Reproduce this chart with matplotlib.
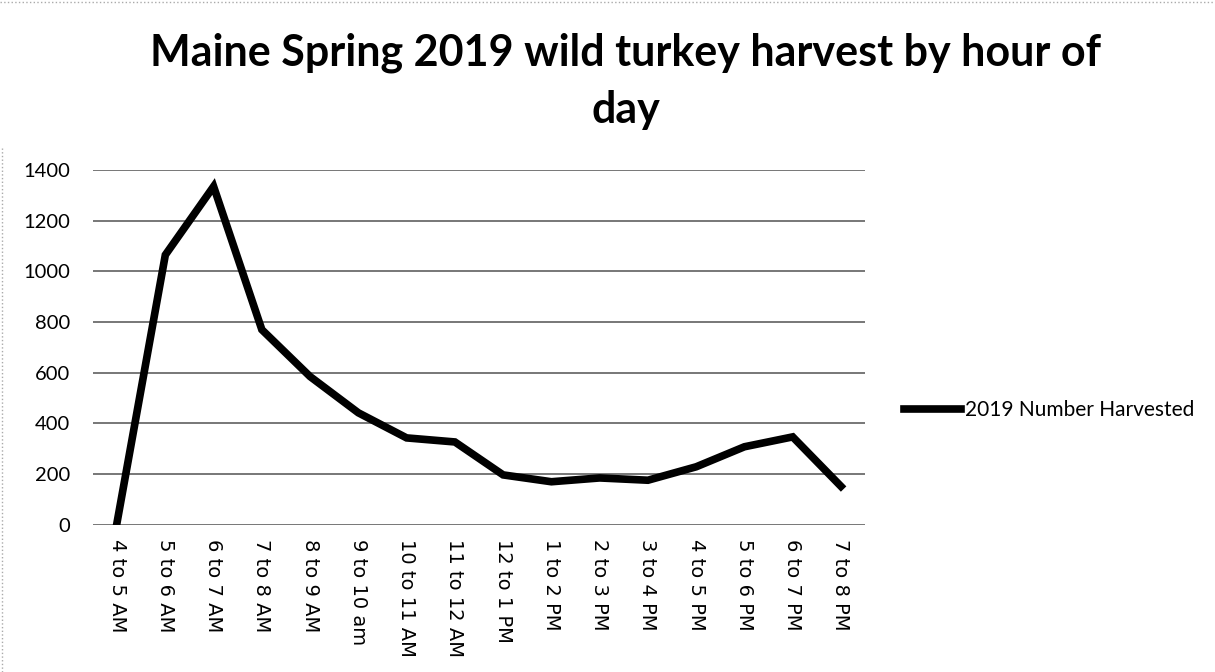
import matplotlib
matplotlib.use("Agg")
import matplotlib.pyplot as plt
from matplotlib.lines import Line2D

hours = ["4 to 5 AM", "5 to 6 AM", "6 to 7 AM", "7 to 8 AM", "8 to 9 AM",
         "9 to 10 am", "10 to 11 AM", "11 to 12 AM", "12 to 1 PM", "1 to 2 PM",
         "2 to 3 PM", "3 to 4 PM", "4 to 5 PM", "5 to 6 PM", "6 to 7 PM",
         "7 to 8 PM"]
harvested = [10, 1065, 1335, 770, 585, 442, 343, 327, 197, 170,
             185, 176, 229, 308, 347, 152]
y_ticks = [0, 200, 400, 600, 800, 1000, 1200, 1400]

title = "Maine Spring 2019 wild turkey harvest by hour of\nday"
series_label = "2019 Number Harvested"

fig = plt.figure(figsize=(12.15, 6.72), dpi=100)
ax = fig.add_axes([0.0765, 0.219, 0.6355, 0.528])

x = list(range(len(hours)))
ax.plot(x, harvested, color="black", linewidth=5.5, solid_joinstyle="miter",
        label=series_label, zorder=3)

ax.set_xlim(-0.5, len(hours) - 0.5)
ax.set_ylim(0, 1400)
ax.set_yticks(y_ticks)
ax.set_yticklabels([str(v) for v in y_ticks], fontsize=14.5, fontfamily="Lato")
ax.set_xticks(x)
ax.set_xticklabels(hours, rotation=-90, fontsize=14, fontfamily="DejaVu Sans",
                   va="top", ha="center")
ax.tick_params(length=0, pad=10)
ax.tick_params(axis="y", pad=16.5)
ax.grid(axis="y", color="#606060", linewidth=1.2)
ax.set_axisbelow(True)
for s in ax.spines.values():
    s.set_visible(False)

fig.text(0.515, 1 - 123 / 672, title, ha="center", va="baseline", fontsize=31,
         fontweight="bold", fontfamily="Lato", linespacing=1.52)

handle = Line2D([], [], color="black", linewidth=5.5)
fig.legend([handle], [series_label], loc="center left",
           bbox_to_anchor=(0.729, 0.39), frameon=False,
           prop={"family": "Lato", "size": 15}, handlelength=2.7,
           handletextpad=0.2)

# scan border remnants
fig.add_artist(Line2D([0, 1], [0.997, 0.997], color="#aaaaaa", lw=1,
                      linestyle=":", transform=fig.transFigure))
fig.add_artist(Line2D([0.002, 0.002], [0, 0.78], color="#aaaaaa", lw=1,
                      linestyle=":", transform=fig.transFigure))

fig.savefig("out.png", dpi=100, facecolor="white")
